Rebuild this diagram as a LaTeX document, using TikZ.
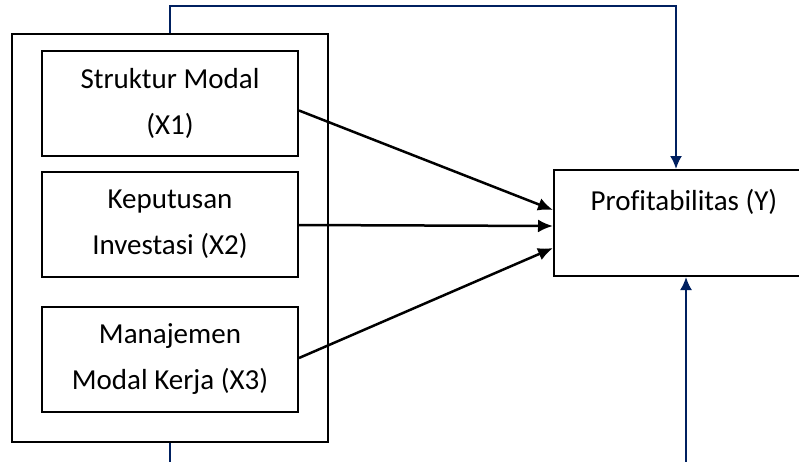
\documentclass[tikz,border=0pt]{standalone}
\usepackage{fontspec}
\setmainfont[Ligatures=NoCommon]{Carlito}
\usetikzlibrary{positioning,arrows.meta}
\definecolor{biru}{RGB}{0,32,96}

\begin{document}
\begin{tikzpicture}[x=1pt,y=-1pt,font=\fontsize{29}{46}\selectfont,
    var/.style={draw,line width=2pt,minimum width=256pt,minimum height=105pt,align=center,inner sep=0pt},
    panah/.style={line width=2.5pt,-{Latex[length=15pt,width=13pt]}},
    garis/.style={biru,line width=2pt}]
                      \useasboundingbox (0,0) rectangle (799,461);
                      \node[draw,line width=2pt,minimum width=316pt,minimum height=408pt] (grup) at (170,238) {};
                      \node[var] (x1) at (170,103.5) {Struktur Modal\\(X1)};
                      \node[var] (x2) at (170,224) {Keputusan\\Investasi (X2)};
                      \node[var] (x3) at (170,359) {Manajemen\\Modal Kerja (X3)};
                      \node[var,minimum width=260pt,minimum height=106pt] (y) at (684,223) {Profitabilitas (Y)\\~};
                      \coordinate (atas) at (676,6);
                      \coordinate (bawah) at (686,470);
                      \draw[panah] ([yshift=-7pt]x1.east) -- ([yshift=13pt]y.west);
                      \draw[panah] ([yshift=-1pt]x2.east) -- ([yshift=-3pt]y.west);
                      \draw[panah] ([yshift=1pt]x3.east) -- ([yshift=-25pt]y.west);
                      \draw[garis,-{Latex[length=13pt,width=12pt]}] (grup.north) |- (atas) -- ([xshift=-8pt]y.north);
                      \draw[garis] (grup.south) -- ++(0,25);
                      \draw[garis,-{Latex[length=13pt,width=12pt]}] (bawah) -- ([xshift=2pt]y.south);
                  \end{tikzpicture}
\end{document}
